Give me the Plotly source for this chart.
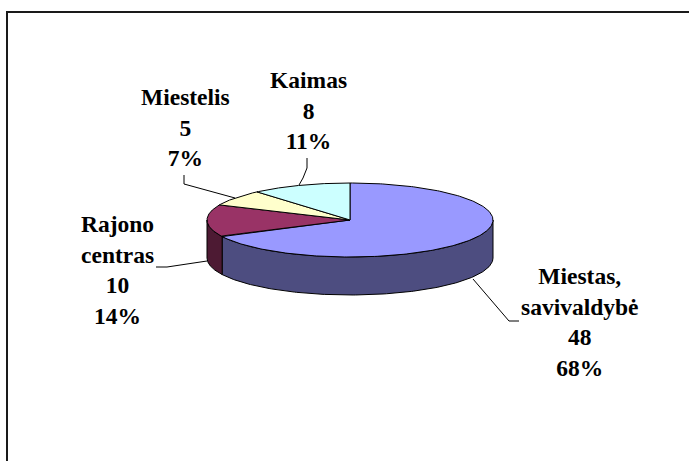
import numpy as np
import plotly.graph_objects as go

categories = ["Miestas,<br>savivaldybė", "Rajono<br>centras", "Miestelis", "Kaimas"]
values = [48, 10, 5, 8]
top_colors = ["#9999FF", "#993366", "#FFFFCC", "#CCFFFF"]
side_colors = ["#4D4D80", "#4D1A33", "#808066", "#668080"]

# label anchors (centre x, centre y) and leader polylines, in window pixels
label_pos = [(580, 322), (117.5, 270), (185, 127), (308, 110)]
leaders = [
    ([473, 509, 519], [279, 321, 321]),
    ([207, 167, 156], [261, 267, 267]),
    ([235, 184, 184], [198, 184, 175]),
    ([299, 303, 307, 307], [185, 178, 168, 158]),
]

W, H = 689, 461
cx, cy, rx, ry, depth = 350, 220, 143, 37, 38


def ell(theta_deg, dy=0):
    t = np.radians(theta_deg)
    return cx + rx * np.sin(t), cy - ry * np.cos(t) + dy


fig = go.Figure()
total = sum(values)
edges = np.concatenate([[0], np.cumsum(values) / total * 360])
line = dict(color="black", width=1)

# walls (only the front half of the rim, 90 to 270 degrees, is visible)
for i in range(len(values)):
    a, b = max(edges[i], 90), min(edges[i + 1], 270)
    if b <= a:
        continue
    th = np.linspace(a, b, 160)
    x1, y1 = ell(th)
    x2, y2 = ell(th[::-1], depth)
    fig.add_trace(go.Scatter(x=np.r_[x1, x2, x1[0]], y=np.r_[y1, y2, y1[0]], mode="lines",
                             fill="toself", fillcolor=side_colors[i], line=line, hoverinfo="skip"))

# top faces
for i in range(len(values)):
    th = np.linspace(edges[i], edges[i + 1], 240)
    x1, y1 = ell(th)
    fig.add_trace(go.Scatter(x=np.r_[cx, x1, cx], y=np.r_[cy, y1, cy], mode="lines",
                             fill="toself", fillcolor=top_colors[i], line=line, hoverinfo="skip"))

# leader lines
for lx, ly in leaders:
    fig.add_trace(go.Scatter(x=lx, y=ly, mode="lines", line=dict(color="black", width=1), hoverinfo="skip"))

# labels
for name, v, (lx, ly) in zip(categories, values, label_pos):
    fig.add_annotation(x=lx, y=ly, xref="x", yref="y", showarrow=False, align="center",
                       text=f"<b>{name}<br>{v}<br>{round(v / total * 100)}%</b>",
                       font=dict(family="Liberation Serif", size=23.5, color="black"))

# the frame runs off the right and bottom of the picture
fig.add_shape(type="rect", xref="x", yref="y", x0=7, y0=12, x1=W + 20, y1=H + 20,
              line=dict(color="#1a1a1a", width=2), layer="below")

fig.update_layout(width=W, height=H, margin=dict(l=0, r=0, t=0, b=0), showlegend=False,
                  paper_bgcolor="white", plot_bgcolor="white",
                  xaxis=dict(range=[0, W], visible=False, fixedrange=True),
                  yaxis=dict(range=[H, 0], visible=False, fixedrange=True))
fig.write_html("out.html", config={"displayModeBar": False},
               post_script="document.body.style.margin='0';document.documentElement.style.overflow='hidden';")
